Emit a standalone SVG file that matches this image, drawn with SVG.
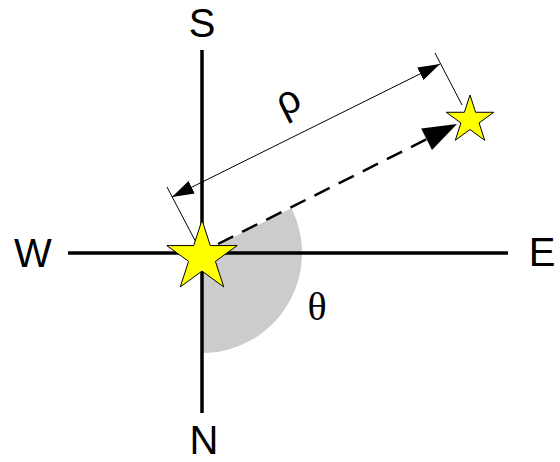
<svg xmlns="http://www.w3.org/2000/svg" width="560" height="462" viewBox="0 0 560 462">
<style>
.axis{stroke:#000;stroke-width:3.5;fill:none}
.thin{stroke:#000;stroke-width:1;fill:none}
.star{fill:#ffff00;stroke:#000;stroke-width:1}
.lbl{font-family:"Liberation Sans",Arial,sans-serif;font-size:40px;fill:#000;text-anchor:middle}
.greek{font-family:"Liberation Serif","Times New Roman",serif;font-size:40px;fill:#000;text-anchor:middle}
</style>
<defs>
<marker id="ah" viewBox="0 0 22 14" refX="22" refY="7" markerWidth="22" markerHeight="14" markerUnits="userSpaceOnUse" orient="auto-start-reverse">
<path d="M0,0 L22,7 L0,14 Z" fill="#000"/>
</marker>
</defs>
<g id="wedge">
<path d="M202,253 L202,353 A100,100 0 0 0 291.4,208.2 Z" fill="#cccccc"/>
</g>
<g id="axes">
<line class="axis" x1="202" y1="50" x2="202" y2="413"/>
<line class="axis" x1="68" y1="253" x2="508" y2="253"/>
</g>
<g id="connectors">
<line class="thin" x1="167" y1="187" x2="200" y2="250"/>
<line class="thin" x1="435" y1="53" x2="462" y2="105"/>
<line class="thin" x1="172" y1="197" x2="440" y2="64" marker-start="url(#ah)" marker-end="url(#ah)"/>
<line x1="218" y1="244" x2="430" y2="137.5" stroke="#000" stroke-width="2.5" stroke-dasharray="17,10"/>
<path d="M457,124 L432,150 L421.2,128.6 Z" fill="#000"/>
</g>
<g id="star-origin">
<polygon class="star" points="202,220 210.29,245.59 237.19,245.57 215.41,261.36 223.75,286.93 202,271.1 180.25,286.93 188.59,261.36 166.81,245.57 193.71,245.59"/>
</g>
<g id="star-target">
<polygon class="star" points="470,95 475.61,112.27 493.78,112.27 479.08,122.95 484.69,140.23 470,129.55 455.31,140.23 460.92,122.95 446.22,112.27 464.39,112.27"/>
</g>
<g id="labels">
<text class="lbl" x="202" y="37">S</text>
<text class="lbl" x="33" y="267">W</text>
<text class="lbl" x="542" y="266">E</text>
<text class="lbl" x="204" y="454">N</text>
<text class="greek" x="317" y="320">θ</text>
<text class="lbl" x="290" y="113" transform="rotate(-26.6 290 105)">ρ</text>
</g>
</svg>
